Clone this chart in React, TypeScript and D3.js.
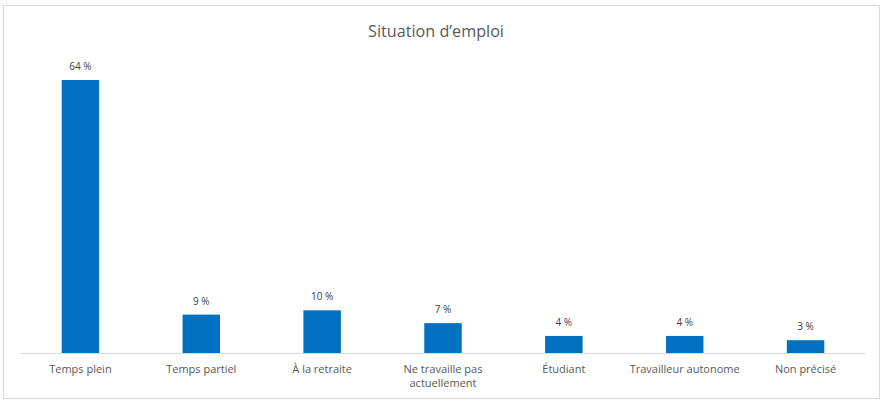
import React from "react";
import * as d3 from "d3";

const categories: string[][] = [
  ["Temps plein"],
  ["Temps partiel"],
  ["À la retraite"],
  ["Ne travaille pas", "actuellement"],
  ["Étudiant"],
  ["Travailleur autonome"],
  ["Non précisé"],
];
const values: number[] = [64, 9, 10, 7, 4, 4, 3];
const title = "Situation d’emploi";

const W = 890;
const H = 407;
const font = "'Open Sans', 'Liberation Sans', sans-serif";
const textColor = "#595959";

export default function App() {
  const x0 = 20;
  const x1 = 866;
  const baseY = 353;
  const keys = categories.map((_, i) => String(i));
  const x = d3.scaleBand<string>().domain(keys).range([x0, x1]).paddingInner(0.69).paddingOuter(0.345);
  const y = d3.scaleLinear().domain([0, 64]).range([baseY, 80]);

  return (
    <svg width={W} height={H} style={{ position: "absolute", left: 0, top: 0 }}>
      <rect x={0} y={0} width={W} height={H} fill="#fff" />
      <rect x={3.5} y={5.5} width={876} height={393} fill="#fff" stroke="#d9d9d9" strokeWidth={1} />
      <text x={436} y={37} textAnchor="middle" fontFamily={font} fontSize={16.2} fill={textColor}>
        {title}
      </text>
      {values.map((v, i) => {
        const bx = x(String(i))!;
        const bw = x.bandwidth();
        return (
          <g key={i}>
            <rect x={bx} y={y(v)} width={bw} height={baseY - y(v)} fill="#0070C0" />
            <text x={bx + bw / 2} y={y(v) - 10} textAnchor="middle" fontFamily={font} fontSize={10} fill="#404040">
              {`${v} %`}
            </text>
          </g>
        );
      })}
      <line x1={x0} x2={x1} y1={baseY + 0.5} y2={baseY + 0.5} stroke="#d9d9d9" strokeWidth={1} />
      {categories.map((lines, i) => {
        const cx = x(String(i))! + x.bandwidth() / 2;
        return (
          <text key={i} textAnchor="middle" fontFamily={font} fontSize={11} fill={textColor}>
            {lines.map((l, j) => (
              <tspan key={j} x={cx} y={373 + j * 14}>
                {l}
              </tspan>
            ))}
          </text>
        );
      })}
    </svg>
  );
}
